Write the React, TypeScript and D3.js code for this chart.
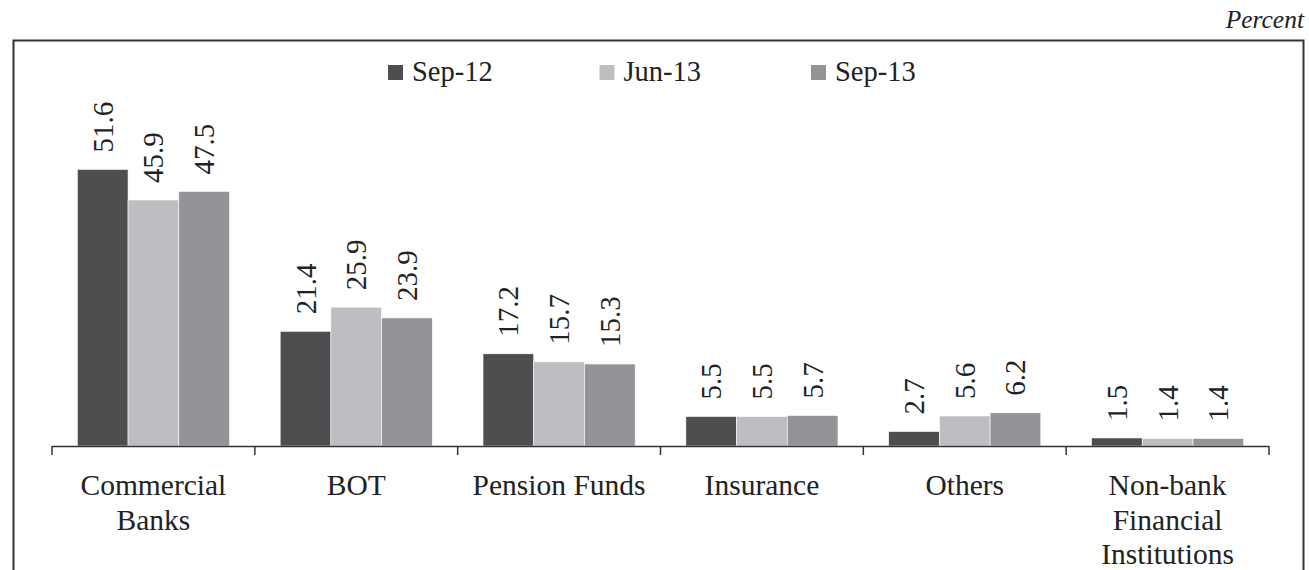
import React from 'react';
import * as d3 from 'd3';

const categories = [
  ['Commercial', 'Banks'],
  ['BOT'],
  ['Pension Funds'],
  ['Insurance'],
  ['Others'],
  ['Non-bank', 'Financial', 'Institutions'],
];
const seriesNames = ['Sep-12', 'Jun-13', 'Sep-13'];
const sep12 = [51.6, 21.4, 17.2, 5.5, 2.7, 1.5];
const jun13 = [45.9, 25.9, 15.7, 5.5, 5.6, 1.4];
const sep13 = [47.5, 23.9, 15.3, 5.7, 6.2, 1.4];
const colors = ['#4d4e50', '#bdbec2', '#939497'];

const App = () => {
  const width = 1309;
  const height = 570;
  const font = '"Liberation Serif", "Times New Roman", serif';
  const baseY = 446;
  const series = [sep12, jun13, sep13];
  const keys = categories.map((c) => c.join(' '));

  const x = d3.scaleBand().domain(keys).range([52, 1269]).paddingInner(0.25).paddingOuter(0.125);
  const xs = d3.scaleBand().domain(seriesNames).range([0, x.bandwidth()]);
  const y = d3.scaleLinear().domain([0, 60]).range([baseY, baseY - 60 * 5.36]);
  const step = x.step();
  const tickXs = d3.range(categories.length + 1).map((i) => 52 + i * step);

  return (
    <svg width={width} height={height} style={{ position: 'absolute', left: 0, top: 0 }} fontFamily={font}>
      <rect width={width} height={height} fill="#fff" />
      <text x={1304} y={28} textAnchor="end" fontStyle="italic" fontSize={25.5} fill="#222">Percent</text>
      <rect x={13.5} y={40.5} width={1290} height={560} fill="none" stroke="#333" strokeWidth={2} />

      {seriesNames.map((s, i) => (
        <g key={s} transform={`translate(${388 + i * 211.5},0)`}>
          <rect x={0} y={65} width={15} height={15} fill={colors[i]} />
          <text x={24} y={81} fontSize={28.5} fill="#222">{s}</text>
        </g>
      ))}

      {keys.map((k, ci) => (
        <g key={k} transform={`translate(${x(k)},0)`}>
          {series.map((vals, si) => {
            const v = vals[ci];
            const bx = xs(seriesNames[si])!;
            const cx = bx + xs.bandwidth() / 2;
            return (
              <g key={si}>
                <rect x={bx} y={y(v)} width={xs.bandwidth()} height={baseY - y(v)} fill={colors[si]} stroke="#fff" strokeWidth={0.6} />
                <text
                  transform={`translate(${cx + 10},${y(v) - 17}) rotate(-90)`}
                  fontSize={29}
                  fill="#222"
                >{v.toFixed(1)}</text>
              </g>
            );
          })}
        </g>
      ))}

      <line x1={52} x2={1269} y1={baseY + 0.5} y2={baseY + 0.5} stroke="#333" strokeWidth={1.5} />
      {tickXs.map((tx) => (
        <line key={tx} x1={tx} x2={tx} y1={baseY} y2={baseY + 9} stroke="#333" strokeWidth={1.5} />
      ))}
      {categories.map((lines, ci) => (
        <text key={ci} x={x(keys[ci])! + x.bandwidth() / 2} y={495} textAnchor="middle" fontSize={29.5} fill="#222">
          {lines.map((l, li) => (
            <tspan key={li} x={x(keys[ci])! + x.bandwidth() / 2} dy={li === 0 ? 0 : 34.5}>{l}</tspan>
          ))}
        </text>
      ))}
    </svg>
  );
};

export default App;
